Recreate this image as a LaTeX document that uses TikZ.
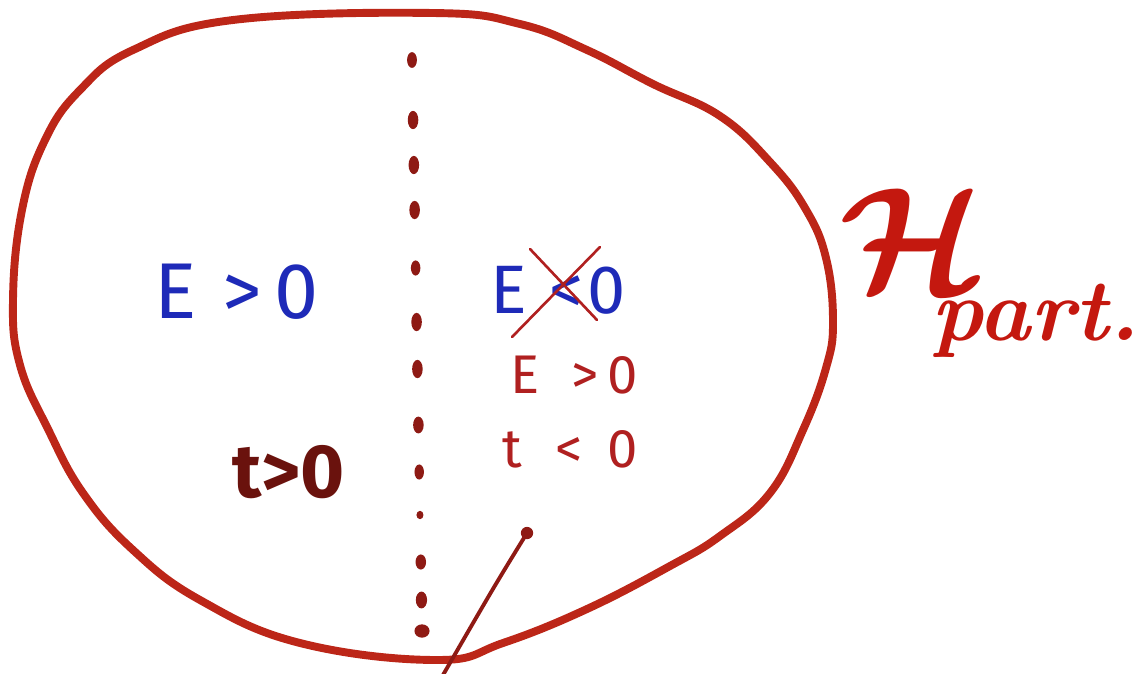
\documentclass[tikz,border=0pt]{standalone}
\usepackage{fontspec}
\setsansfont{Fira Sans}
\usepackage{tikz}
\usetikzlibrary{positioning}
\definecolor{RimRed}{HTML}{BC2618}
\definecolor{DotRed}{HTML}{8E1A14}
\definecolor{InkBlue}{HTML}{1E2AB8}
\definecolor{PenRed}{HTML}{B02020}
\definecolor{DarkInk}{HTML}{6A120D}
\definecolor{ScriptRed}{HTML}{C4180F}

\begin{document}
\begin{tikzpicture}[x=0.02cm, y=-0.02cm,
    rim/.style={draw=RimRed, line width=4.5pt, line join=round},
    dotmark/.style={fill=DotRed},
    bluetxt/.style={font=\sffamily\fontsize{45}{45}\selectfont, InkBlue, inner sep=0pt},
    redtxt/.style={font=\sffamily\fontsize{31}{31}\selectfont, PenRed, inner sep=0pt},
    boldtxt/.style={font=\sffamily\bfseries\fontsize{43}{43}\selectfont, DarkInk, inner sep=0pt},
    crossline/.style={draw=PenRed, line width=1.5pt, line cap=round},
    pointer/.style={draw=DotRed, line width=2.2pt, line cap=round},
    script/.style={ScriptRed, inner sep=0pt}
]
\useasboundingbox (0,0) rectangle (1146,673);

% === Outline ===
\draw[rim] plot[smooth cycle, tension=0.7] coordinates {
    (433,13) (520,24) (587,50) (653,84) (720,116) (770,162) (805,208)
    (826,258) (833,322) (826,368) (803,430) (770,493) (720,536) (670,566)
    (587,609) (503,643) (437,660) (300,643) (200,600) (133,550) (83,493)
    (48,429) (20,365) (13,300) (22,210) (45,140) (80,90) (133,50) (233,20)};

% === Dotted divider ===
\foreach \yy/\rx/\ry in {60/2.8/4.5, 120/3/5.2, 165/3/5.2, 210/3/5.2, 268/2.7/4.3,
    322/3/5.2, 369/3/5.2, 425/3/4.8, 472/2.7/4.3, 515/2/2.4, 562/3/4.3,
    600/3.2/4.8, 631/4.3/3.8}
    \fill[dotmark] ({412+(\yy-60)*10/571},\yy) ellipse [x radius=\rx*1pt, y radius=\ry*1pt];

% === Left half ===
\node[bluetxt, anchor=base west] (leftE) at (154,318) {E\hspace{15pt}>\hspace{7pt}0};
\node[boldtxt, anchor=base west] (leftT) at (232,497) {t>0};

% === Right half ===
\node[bluetxt, font=\sffamily\fontsize{39}{39}\selectfont, anchor=base west] (crossE) at (490,313) {E\hspace{13pt}<\hspace{2pt}0};
\coordinate (xa1) at (512,337);
\coordinate (xa2) at (600,247);
\coordinate (xb1) at (530,249);
\coordinate (xb2) at (597,320);
\draw[crossline] (xa1) -- (xa2);
\draw[crossline] (xb1) -- (xb2);

\node[redtxt, anchor=base west] (rightE) at (510,393) {E\hspace{18pt}>\hspace{5pt}0};
\node[redtxt, anchor=base west] (rightT) at (502,467) {t\hspace{19pt}<\hspace{14pt}0};

% pointer to the rim
\coordinate (ptrTip) at (527,533);
\coordinate (ptrEnd) at (443,675);
\draw[pointer] (ptrTip) .. controls (495,585) .. (ptrEnd);
\fill[DotRed] (ptrTip) circle (3.5pt);

% === Label ===
\node[script, scale=8.5, font=\boldmath] (hsym) at (913,240) {$\mathcal{H}$};
\node[script, scale=5, font=\bfseries\itshape, anchor=base west] (hsub) at (930,340) {part.};
\end{tikzpicture}
\end{document}
